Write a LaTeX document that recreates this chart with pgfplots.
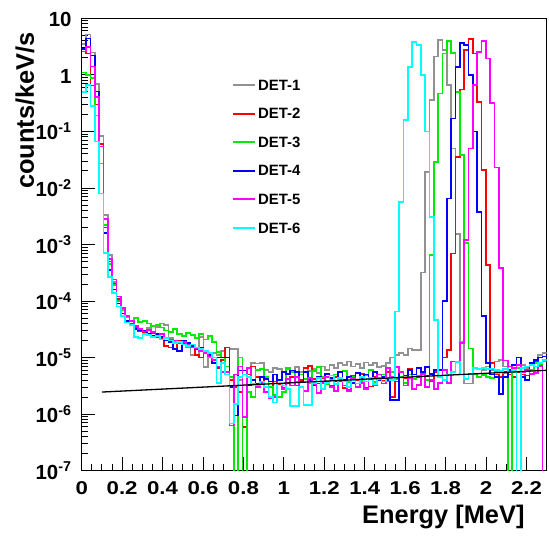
\documentclass[border=0pt]{standalone}
\usepackage{fontspec}
\setmainfont{Liberation Sans}
\newfontfamily\xtickfont{Liberation Sans}[FakeStretch=1.2]
\usepackage{pgfplots}
\usepackage{pgfplotstable}
\pgfplotsset{compat=1.18}
\definecolor{detA}{RGB}{145,145,145}
\definecolor{detB}{RGB}{255,0,0}
\definecolor{detC}{RGB}{0,235,0}
\definecolor{detD}{RGB}{0,0,255}
\definecolor{detE}{RGB}{255,0,255}
\definecolor{detF}{RGB}{0,255,255}
\pgfplotstableread{
G R Gn B M C
3.5 2.6 1.1 2.9 2.6 0.5
5.2 2.4 1.0 4.4 3.1 0.66
2.5 0.65 0.87 2.2 1.4 0.28
0.68 0.3 0.19 0.51 0.41 0.066
0.083 0.06 0.027 0.054 0.054 0.008
3.3e-3 2.0e-3 2.2e-3 1.6e-3 2.8e-3 7e-4
6.5e-4 5e-4 4.5e-4 3.5e-4 5.5e-4 2.7e-4
2.2e-4 2.0e-4 1.9e-4 1.6e-4 2.4e-4 1.4e-4
1.1e-4 1.1e-4 1.0e-4 9e-5 1.2e-4 8e-5
7e-5 7.5e-5 6.8e-5 6e-5 7.5e-5 5.5e-5
5.2e-5 5.5e-5 5.5e-5 4.5e-5 5.5e-5 4.2e-5
4.0e-5 4.0e-5 4.5e-5 3.8e-5 4.5e-5 3.8e-5
3.3e-5 3.3e-5 5.0e-5 3.2e-5 3.6e-5 2.3e-5
3.0e-5 2.9e-5 4.3e-5 3.0e-5 3.2e-5 2.2e-5
2.8e-5 2.7e-5 4.5e-5 3.0e-5 2.9e-5 2.6e-5
3.3e-5 2.5e-5 4.0e-5 2.6e-5 3.1e-5 2.5e-5
2.8e-5 2.7e-5 3.6e-5 2.4e-5 2.8e-5 2.3e-5
3.5e-5 2.3e-5 3.8e-5 2.6e-5 2.4e-5 2.4e-5
4.0e-5 2.2e-5 3.4e-5 2.3e-5 2.6e-5 2.1e-5
3.8e-5 1.6e-5 3.0e-5 2.0e-5 2.2e-5 2.2e-5
2.2e-5 1.5e-5 2.8e-5 1.9e-5 2.1e-5 2.0e-5
1.9e-5 1.4e-5 3.2e-5 1.4e-5 2.0e-5 1.8e-5
2.0e-5 2.0e-5 2.6e-5 1.3e-5 1.8e-5 1.9e-5
1.7e-5 1.8e-5 2.4e-5 2.0e-5 1.9e-5 1.7e-5
1.5e-5 1.7e-5 2.7e-5 1.8e-5 1.7e-5 1.6e-5
1.1e-5 1.5e-5 2.5e-5 1.6e-5 1.5e-5 1.7e-5
1.1e-5 1.1e-5 2.2e-5 1.4e-5 1.45e-5 1.5e-5
2.3e-5 1.0e-5 2.6e-5 1.5e-5 1.3e-5 1.4e-5
6.8e-6 1.3e-5 2.1e-5 1.3e-5 1.2e-5 1.3e-5
1.0e-5 1.2e-5 2.4e-5 1.1e-5 1.05e-5 1.2e-5
1.2e-5 9e-6 1.9e-5 8e-6 9e-6 1.0e-5
1.1e-5 6.5e-6 1.25e-5 1.0e-5 7e-6 3.6e-6
1.3e-5 9e-6 1.0e-5 1.0e-5 5.5e-6 8e-6
1.0e-5 1.5e-5 7e-6 1.0e-5 5.5e-6 5e-6
1.4e-5 4e-6 4.5e-6 3e-6 6.3e-7 6.8e-7
1.4e-5 3e-6 1e-9 9.5e-7 5e-6 1.5e-6
4e-6 2.5e-6 1.0e-5 5.9e-6 7e-6 4.5e-6
1e-9 6e-7 1e-9 5.9e-6 9e-7 5e-6
5e-6 5e-6 2.5e-6 3.2e-6 6.5e-6 4.5e-6
8e-6 7e-6 2.0e-6 4e-6 3.5e-6 3.5e-6
7.9e-6 4.5e-6 6e-6 3.5e-6 3.0e-6 3.2e-6
8e-6 3.5e-6 6.2e-6 4.5e-6 3.6e-6 3.8e-6
6e-6 4.2e-6 4.5e-6 4.2e-6 2.5e-6 3.0e-6
5.5e-6 3.0e-6 3.0e-6 3.8e-6 1.9e-6 2.0e-6
6.5e-6 3.8e-6 2.2e-6 5.0e-6 2.0e-6 1.6e-6
6.3e-6 3.4e-6 2.0e-6 4.0e-6 3.5e-6 3.5e-6
5.6e-6 2.9e-6 2.5e-6 5.6e-6 2.8e-6 3.2e-6
6.2e-6 3.6e-6 6.5e-6 5.2e-6 4.2e-6 2.8e-6
5.8e-6 4.5e-6 5.5e-6 5.9e-6 3.2e-6 1.4e-6
6.8e-6 3.2e-6 3.8e-6 5.5e-6 4.6e-6 1.4e-6
5.5e-6 4.0e-6 5.0e-6 3.8e-6 3.0e-6 3.0e-6
6.6e-6 6.5e-6 4.2e-6 5.5e-6 2.6e-6 1.45e-6
5.8e-6 7.2e-6 3.5e-6 4.0e-6 4.3e-6 1.45e-6
6.2e-6 4.2e-6 5.8e-6 3.2e-6 3.4e-6 3.6e-6
5.3e-6 3.5e-6 6.8e-6 4.5e-6 2.4e-6 4.4e-6
7.0e-6 4.4e-6 4.5e-6 3.6e-6 3.6e-6 2.8e-6
6.0e-6 3.7e-6 3.4e-6 5.2e-6 4.5e-6 3.6e-6
7.4e-6 3.2e-6 4.0e-6 4.4e-6 3.0e-6 4.8e-6
6.5e-6 4.6e-6 5.0e-6 3.9e-6 2.6e-6 3.4e-6
8.0e-6 3.9e-6 4.1e-6 5.6e-6 4.0e-6 4.4e-6
7.3e-6 2.9e-6 5.8e-6 4.0e-6 3.2e-6 3.8e-6
8.5e-6 2.7e-6 3.7e-6 4.6e-6 2.6e-6 3.0e-6
7.0e-6 4.8e-6 4.5e-6 3.6e-6 4.4e-6 4.0e-6
7.6e-6 4.0e-6 5.4e-6 5.4e-6 3.0e-6 3.5e-6
6.6e-6 5.2e-6 3.9e-6 4.2e-6 3.6e-6 4.6e-6
8.2e-6 2.9e-6 4.8e-6 5.0e-6 2.8e-6 3.8e-6
7.4e-6 3.1e-6 6.0e-6 4.4e-6 4.2e-6 4.3e-6
8.0e-6 4.6e-6 3.7e-6 5.6e-6 3.3e-6 3.4e-6
6.9e-6 5.0e-6 4.4e-6 4.0e-6 5.0e-6 4.2e-6
7.2e-6 3.9e-6 5.0e-6 4.5e-6 3.5e-6 3.8e-6
8.0e-6 5.5e-6 3.9e-6 4.0e-6 6.5e-6 4.4e-6
1.0e-5 2.0e-6 5.5e-6 1.8e-6 4.5e-6 4.0e-6
1.1e-5 3.8e-6 4.2e-6 1.8e-6 6.8e-6 6.5e-5
1.2e-5 5.6e-6 4.6e-6 5.5e-6 5.5e-6 5.6e-3
1.1e-5 4.3e-6 3.6e-6 4.8e-6 3.2e-6 0.16
1.45e-5 6.2e-6 5.0e-6 6.0e-6 4.3e-6 1.39
1.35e-5 5.0e-6 4.2e-6 5.0e-6 2.8e-6 3.85
1.35e-5 4.5e-6 4.8e-6 6.5e-6 3.3e-6 3.37
3.2e-4 5.4e-6 5.2e-6 5.5e-6 5.2e-6 0.99
1.9e-2 4.7e-6 4.0e-6 6.8e-6 3.0e-6 0.1
0.36 3.9e-6 6.5e-4 5.2e-6 4.0e-6 3.1e-3
2.1 5.5e-6 0.029 6e-6 2.8e-6 4.6e-5
4.1 4.8e-6 0.47 6e-6 3.6e-6 4.5e-6
2.75 1.0e-5 2.4 1.0e-4 6.0e-6 4e-6
0.66 1.35e-5 4.0 6.5e-3 3.6e-6 5e-6
0.05 6.9e-4 2.45 0.17 8.5e-6 5.5e-6
1.55e-3 0.035 0.5 1.39 8.5e-6 8.3e-6
1.9e-5 0.55 0.038 3.7 1.8e-5 5e-6
3.5e-6 2.75 1.07e-3 3.37 1.2e-3 4.2e-6
3.5e-6 4.3 1.45e-5 0.99 0.05 5.2e-6
5e-6 2.4 5e-6 0.1 0.66 6.5e-6
4.5e-6 0.33 4.5e-6 3.8e-3 2.57 6.3e-6
6e-6 0.021 4.9e-6 5.4e-5 4.0 6.5e-6
7e-6 4.3e-4 4.5e-6 8e-6 1.95 6.2e-6
6e-6 8e-6 4.3e-6 5e-6 0.32 6.4e-6
8.5e-6 5e-6 5.5e-6 4.5e-6 0.023 6.0e-6
9e-6 4.5e-6 5.8e-6 2.3e-6 3.8e-4 5.8e-6
7e-6 5.5e-6 5.3e-6 4.5e-6 8.9e-6 6.2e-6
5e-6 5e-6 1e-9 6e-6 7e-6 5.5e-6
6e-6 4.5e-6 5.5e-6 7.5e-6 6.5e-6 6.0e-6
5.5e-6 5.5e-6 6.5e-6 1.0e-5 7.5e-6 1e-9
7.5e-6 5e-6 5.6e-6 4.5e-6 5.5e-6 6.5e-6
6.5e-6 4.8e-6 7e-6 4e-6 6e-6 7e-6
8e-6 8e-6 6e-6 8e-6 5.2e-6 7.5e-6
9e-6 8.5e-6 8e-6 9e-6 5.3e-6 7e-6
1.1e-5 7e-6 7.5e-6 1.0e-5 7.2e-6 8e-6
1.2e-5 9e-6 8.5e-6 1.05e-5 1e-9 9e-6
1.2e-5 9e-6 8.5e-6 1.05e-5 1e-9 9e-6
}\spectra
\newcommand{\sexp}[1]{10\textsuperscript{-#1}}
\newcommand{\sph}{\vphantom{\textsuperscript{-7}}}
\newcommand{\legrow}[3]{%
  \draw[#1, line width=2bp] (axis description cs:0.3254,#2) -- (axis description cs:0.3727,#2);
  \node[anchor=west, inner sep=0pt, font=\bfseries\fontsize{15}{16}\selectfont] at (axis description cs:0.3789,#2) {#3};}
\begin{document}
\begin{tikzpicture}
\path[use as bounding box] (-81.7bp,-65.3bp) rectangle (467.3bp,470.7bp);
\begin{axis}[
  at={(0,0)}, anchor=south west,
  scale only axis, width=465bp, height=452.4bp,
  xmin=0, xmax=2.3, ymode=log, ymin=1e-7, ymax=10,
  axis line style={line width=1.1bp},
  tick align=inside, xtick pos=bottom, ytick pos=left,
  major tick length=13.3bp, minor tick length=6.7bp,
  tick style={black, line width=0.9bp},
  xtick={0,0.2,0.4,0.6,0.8,1,1.2,1.4,1.6,1.8,2,2.2},
  xticklabels={0,0.2,0.4,0.6,0.8,1,1.2,1.4,1.6,1.8,2,2.2},
  minor x tick num=3,
  ytick={1e-7,1e-6,1e-5,1e-4,1e-3,1e-2,1e-1,1,10},
  yticklabels={\sexp{7},\sexp{6},\sexp{5},\sexp{4},\sexp{3},\sexp{2},\sexp{1},\sph 1,\sph 10},
  minor ytick={2e-7,3e-7,4e-7,5e-7,6e-7,7e-7,8e-7,9e-7,
    2e-6,3e-6,4e-6,5e-6,6e-6,7e-6,8e-6,9e-6,
    2e-5,3e-5,4e-5,5e-5,6e-5,7e-5,8e-5,9e-5,
    2e-4,3e-4,4e-4,5e-4,6e-4,7e-4,8e-4,9e-4,
    2e-3,3e-3,4e-3,5e-3,6e-3,7e-3,8e-3,9e-3,
    2e-2,3e-2,4e-2,5e-2,6e-2,7e-2,8e-2,9e-2,
    0.2,0.3,0.4,0.5,0.6,0.7,0.8,0.9,
    2,3,4,5,6,7,8,9},
  xticklabel style={font=\xtickfont\bfseries\fontsize{18.6}{20}\selectfont, anchor=north, inner sep=0pt, yshift=-11bp},
  yticklabel style={font=\bfseries\fontsize{20.5}{22}\selectfont, anchor=east, inner sep=0pt, xshift=-10bp},
  xlabel={Energy [MeV]}, ylabel={counts/keV/s},
  label style={font=\bfseries\fontsize{25.5}{28}\selectfont},
  xlabel style={at={(axis description cs:0.9527,-0.1178)}, anchor=base east, inner sep=0pt},
  ylabel style={at={(axis description cs:-0.122,0.9697)}, anchor=east, inner sep=0pt},
  every axis plot/.append style={line width=1.7bp, const plot},
]
\addplot[color=detA] table[x expr=\coordindex*0.0215, y=G] {\spectra};
\addplot[color=detB] table[x expr=\coordindex*0.0215, y=R] {\spectra};
\addplot[color=detC] table[x expr=\coordindex*0.0215, y=Gn] {\spectra};
\addplot[color=detD] table[x expr=\coordindex*0.0215, y=B] {\spectra};
\addplot[color=detE] table[x expr=\coordindex*0.0215, y=M] {\spectra};
\addplot[color=detF] table[x expr=\coordindex*0.0215, y=C] {\spectra};
\addplot[black, line width=1.3bp, sharp plot] coordinates {(0.1,2.46e-6) (2.3,5.96e-6)};
\legrow{detA}{0.8526}{DET-1}
\legrow{detB}{0.7894}{DET-2}
\legrow{detC}{0.7261}{DET-3}
\legrow{detD}{0.6629}{DET-4}
\legrow{detE}{0.5997}{DET-5}
\legrow{detF}{0.5365}{DET-6}
\end{axis}
\end{tikzpicture}
\end{document}
